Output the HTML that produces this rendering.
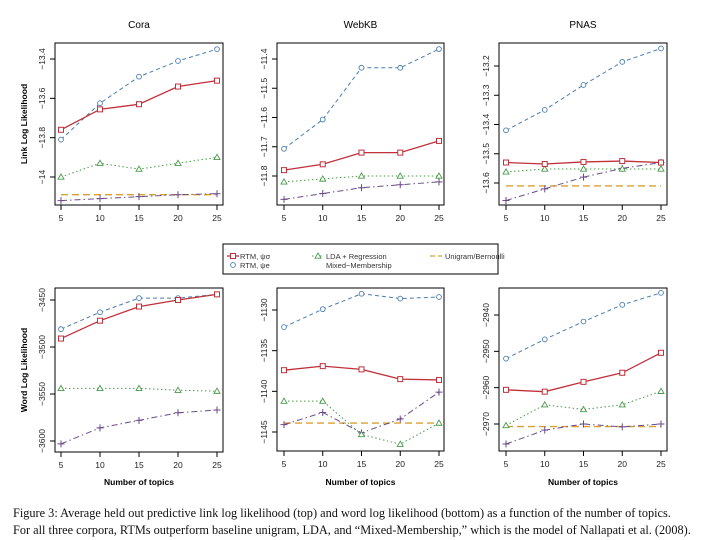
<!DOCTYPE html>
<html><head><meta charset="utf-8"><style>
body{margin:0;background:#fff;width:720px;height:540px;overflow:hidden}
svg{display:block}
.cap{position:absolute;left:13px;font-family:"Liberation Serif",serif;font-size:12.3px;color:#111;white-space:nowrap}
</style></head><body>
<svg id="fig" width="720" height="540" viewBox="0 0 720 540"></svg>
<div class="cap" style="top:506px">Figure 3: Average held out predictive link log likelihood (top) and word log likelihood (bottom) as a function of the number of topics.</div>
<div class="cap" style="top:523px">For all three corpora, RTMs outperform baseline unigram, LDA, and “Mixed-Membership,” which is the model of Nallapati et al. (2008).</div>
<script>
const topics=[5,10,15,20,25];
// Cora link
const coraLinkRTMc=[-13.76,-13.656,-13.63,-13.54,-13.51];
const coraLinkRTMe=[-13.81,-13.625,-13.49,-13.41,-13.35];
const coraLinkLDA=[-14.0,-13.93,-13.96,-13.93,-13.90];
const coraLinkUni=[-14.09,-14.09,-14.09,-14.09,-14.09];
const coraLinkMM=[-14.12,-14.11,-14.10,-14.09,-14.085];
const coraLinkTicks=[-13.4,-13.6,-13.8,-14.0];
// WebKB link
const webLinkRTMc=[-11.78,-11.76,-11.72,-11.72,-11.68];
const webLinkRTMe=[-11.707,-11.607,-11.43,-11.43,-11.366];
const webLinkLDA=[-11.82,-11.81,-11.80,-11.80,-11.80];
const webLinkMM=[-11.88,-11.86,-11.84,-11.83,-11.82];
const webLinkTicks=[-11.4,-11.5,-11.6,-11.7,-11.8];
// PNAS link
const pnasLinkRTMc=[-13.53,-13.535,-13.528,-13.525,-13.53];
const pnasLinkRTMe=[-13.42,-13.35,-13.265,-13.186,-13.14];
const pnasLinkLDA=[-13.562,-13.552,-13.552,-13.552,-13.552];
const pnasLinkUni=[-13.61,-13.61,-13.61,-13.61,-13.61];
const pnasLinkMM=[-13.66,-13.62,-13.58,-13.55,-13.53];
const pnasLinkTicks=[-13.2,-13.3,-13.4,-13.5,-13.6];
// Cora word
const coraWordRTMc=[-3491,-3472,-3457,-3450,-3444];
const coraWordRTMe=[-3481,-3463,-3448,-3448,-3444];
const coraWordLDA=[-3544,-3544,-3544,-3546,-3547];
const coraWordMM=[-3603,-3586,-3578,-3570,-3567];
const coraWordTicks=[-3450,-3500,-3550,-3600];
// WebKB word
const webWordRTMc=[-1137.4,-1136.9,-1137.3,-1138.5,-1138.6];
const webWordRTMe=[-1132.1,-1129.9,-1128.0,-1128.6,-1128.4];
const webWordLDA=[-1141.2,-1141.2,-1145.3,-1146.5,-1143.9];
const webWordUni=[-1143.9,-1143.9,-1143.9,-1143.9,-1143.9];
const webWordMM=[-1144.1,-1142.6,-1145.1,-1143.4,-1140.1];
const webWordTicks=[-1130,-1135,-1140,-1145];
// PNAS word
const pnasWordRTMc=[-2960.6,-2961.1,-2958.4,-2955.9,-2950.4];
const pnasWordRTMe=[-2952,-2946.7,-2941.8,-2937.2,-2933.9];
const pnasWordLDA=[-2970.4,-2964.7,-2966,-2964.7,-2961];
const pnasWordUni=[-2970.7,-2970.7,-2970.7,-2970.7,-2970.7];
const pnasWordMM=[-2975.5,-2971.7,-2970,-2970.8,-2970];
const pnasWordTicks=[-2940,-2950,-2960,-2970];

const NS="http://www.w3.org/2000/svg";
const svg=document.getElementById('fig');
function mk(tag,attrs,parent){const e=document.createElementNS(NS,tag);for(const k in attrs)e.setAttribute(k,attrs[k]);(parent||svg).appendChild(e);return e;}
const C={c:'#c0303a',e:'#4a7db0',lda:'#4a9a4a',uni:'#d9a030',mm:'#6a4a8a'};
const STY={c:{d:'none',w:1.3},e:{d:'4,3',w:1},lda:{d:'1.5,2.5',w:1},uni:{d:'7,4',w:1.3},mm:{d:'6,3,1.5,3',w:1}};
function marker(g,kind,x,y){
  if(kind==='c'){const m=mk('rect',{x:x-2.5,y:y-2.5,width:5,height:5,fill:'#fff',stroke:C.c,'stroke-width':1},g);}
  else if(kind==='e'){const m=mk('circle',{cx:x,cy:y,r:2.4,fill:'#fff',stroke:C.e,'stroke-width':0.9},g);}
  else if(kind==='lda'){const m=mk('polygon',{points:`${x},${y-3} ${x-3},${y+2.2} ${x+3},${y+2.2}`,fill:'#fff',stroke:C.lda,'stroke-width':0.9},g);}
  else if(kind==='mm'){const m=mk('path',{d:`M${x-3.5},${y}H${x+3.5}M${x},${y-3.5}V${y+3.5}`,stroke:C.mm,'stroke-width':1},g);}
}
function panel(o){
  const g=mk('g',{});
  
  
  const X0=o.x0,X1=o.x1,T=o.yt,B=o.yb;
  const xs=v=>o.px5+(v-5)/20*(o.px25-o.px5);
  const ys=v=>o.py0+(o.t0-v)*(o.py1-o.py0)/(o.t0-o.t1);
  const fr=mk('rect',{x:X0,y:T,width:X1-X0,height:B-T,fill:'none',stroke:'#000','stroke-width':1},g);
  
  topics.forEach(t=>{
    const x=xs(t);
    const tk=mk('line',{x1:x,x2:x,y1:B,y2:B+5,stroke:'#000'},g);
    
    const tl=mk('text',{x:x,y:B+16,'text-anchor':'middle','font-size':8.5,'font-family':'Liberation Sans, sans-serif',fill:'#222'},g);
    tl.textContent=t;
  });
  o.ticks.forEach(t=>{
    const y=ys(t);
    const tk=mk('line',{x1:X0-5,x2:X0,y1:y,y2:y,stroke:'#000'},g);
    
    const tl=mk('text',{x:X0-10,y:y,'text-anchor':'middle','font-size':8.5,'font-family':'Liberation Sans, sans-serif',fill:'#222',transform:`rotate(-90 ${X0-10} ${y})`},g);
    tl.textContent=String(t).replace('-','\u2212');
  });
  if(o.title){const tt=mk('text',{x:(X0+X1)/2,y:28,'text-anchor':'middle','font-size':10,'font-family':'Liberation Sans, sans-serif'},g);tt.textContent=o.title;}
  if(o.xlab){const xl=mk('text',{x:(X0+X1)/2,y:485,'text-anchor':'middle','font-size':8.5,'font-weight':'bold','font-family':'Liberation Sans, sans-serif'},g);xl.textContent='Number of topics';}
  if(o.ylab){const cy=(T+B)/2;const yl=mk('text',{x:27,y:cy,'text-anchor':'middle','font-size':8.5,'font-weight':'bold','font-family':'Liberation Sans, sans-serif',transform:`rotate(-90 27 ${cy})`},g);yl.textContent=o.ylab;}
  const cp=mk('clipPath',{id:'cp'+o.name},g);mk('rect',{x:X0,y:T,width:X1-X0,height:B-T},cp);
  const sg=mk('g',{'clip-path':`url(#cp${o.name})`},g);
  o.series.forEach(([kind,vals])=>{
    const pts=vals.map((v,i)=>`${xs(topics[i])},${ys(v)}`).join(' ');
    const ln=mk('polyline',{points:pts,fill:'none',stroke:C[kind],'stroke-width':STY[kind].w,'stroke-dasharray':STY[kind].d},sg);
    
    if(kind!=='uni')vals.forEach((v,i)=>marker(sg,kind,xs(topics[i]),ys(v)));
  });
}
panel({name:'cora-link-panel',title:'Cora',ylab:'Link Log Likelihood',x0:55,x1:223,yt:43,yb:205,px5:61,px25:217,t0:-13.4,py0:59,t1:-14.0,py1:177,ticks:coraLinkTicks,
 series:[['uni',coraLinkUni],['mm',coraLinkMM],['lda',coraLinkLDA],['e',coraLinkRTMe],['c',coraLinkRTMc]]});
panel({name:'webkb-link-panel',title:'WebKB',x0:277,x1:444,yt:43,yb:205,px5:284,px25:439,t0:-11.4,py0:59,t1:-11.8,py1:176,ticks:webLinkTicks,
 series:[['mm',webLinkMM],['lda',webLinkLDA],['e',webLinkRTMe],['c',webLinkRTMc]]});
panel({name:'pnas-link-panel',title:'PNAS',x0:499,x1:667,yt:43,yb:205,px5:506,px25:661,t0:-13.2,py0:66,t1:-13.6,py1:183,ticks:pnasLinkTicks,
 series:[['uni',pnasLinkUni],['mm',pnasLinkMM],['lda',pnasLinkLDA],['e',pnasLinkRTMe],['c',pnasLinkRTMc]]});
panel({name:'cora-word-panel',ylab:'Word Log Likelihood',xlab:1,x0:55,x1:223,yt:288,yb:452,px5:61,px25:217,t0:-3450,py0:300,t1:-3600,py1:441,ticks:coraWordTicks,
 series:[['mm',coraWordMM],['lda',coraWordLDA],['e',coraWordRTMe],['c',coraWordRTMc]]});
panel({name:'webkb-word-panel',xlab:1,x0:277,x1:444,yt:288,yb:451,px5:284,px25:439,t0:-1130,py0:310,t1:-1145,py1:432,ticks:webWordTicks,
 series:[['uni',webWordUni],['mm',webWordMM],['lda',webWordLDA],['e',webWordRTMe],['c',webWordRTMc]]});
panel({name:'pnas-word-panel',xlab:1,x0:499,x1:667,yt:288,yb:451,px5:506,px25:661,t0:-2940,py0:315,t1:-2970,py1:424,ticks:pnasWordTicks,
 series:[['uni',pnasWordUni],['mm',pnasWordMM],['lda',pnasWordLDA],['e',pnasWordRTMe],['c',pnasWordRTMc]]});

// legend
const lg=mk('g',{});


mk('rect',{x:223,y:244,width:275,height:30,fill:'#fff',stroke:'#000','stroke-width':1},lg);
function lt(x,y,s,name){const t=mk('text',{x:x,y:y,'font-size':7.5,'font-family':'Liberation Sans, sans-serif',fill:'#333'},lg);t.textContent=s;}
mk('line',{x1:227,x2:239,y1:256,y2:256,stroke:C.c,'stroke-width':1.3},lg);marker(lg,'c',233,256);
lt(240,259,'RTM, ψ\u03c3','legend-entry-rtm-sigma');
marker(lg,'e',233,265);
lt(240,268,'RTM, ψe','legend-entry-rtm-e');
mk('line',{x1:312,x2:324,y1:256,y2:256,stroke:C.lda,'stroke-dasharray':'1.5,2.5'},lg);marker(lg,'lda',318,256);
lt(326,259,'LDA + Regression','legend-entry-lda');
lt(326,268,'Mixed\u2212Membership','legend-entry-mixed-membership');
mk('line',{x1:430,x2:442,y1:256,y2:256,stroke:C.uni,'stroke-width':1.3,'stroke-dasharray':'5,3'},lg);
lt(445,259,'Unigram/Bernoulli','legend-entry-unigram');
</script>
</body></html>
